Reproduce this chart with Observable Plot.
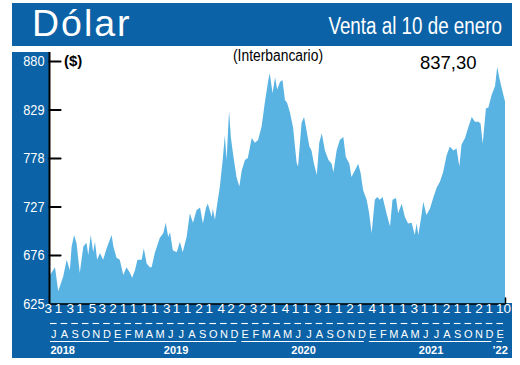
<!DOCTYPE html>
<html><head><meta charset="utf-8">
<script src="https://cdn.jsdelivr.net/npm/d3@7"></script>
<script src="https://cdn.jsdelivr.net/npm/@observablehq/plot@0.6"></script>
<style>
html,body{margin:0;padding:0;background:#fff;}
#wrap{position:relative;width:520px;height:365px;overflow:hidden;background:#fff;}
.band{position:absolute;background:#0b62a6;}
#top{left:12px;top:3px;width:500px;height:43px;}
#left{left:12px;top:52px;width:37px;height:306px;}
#bottom{left:12px;top:303px;width:500px;height:55px;}
.layer{position:absolute;left:0;top:0;}
.txt{position:absolute;white-space:nowrap;line-height:1;display:inline-block;}
#title{left:32px;top:5px;color:#fff;font-family:"Liberation Sans",Arial,sans-serif;font-size:37.5px;letter-spacing:2px;}
#sub{right:18px;top:15px;color:#fff;font-family:"Liberation Sans",sans-serif;font-size:23.5px;transform:scaleX(0.8);transform-origin:right center;}
#unit{left:64px;top:53px;color:#000;font-family:"Liberation Sans",sans-serif;font-size:15px;font-weight:bold;}
#note{left:233px;top:48px;color:#000;font-family:"Liberation Sans",sans-serif;font-size:16px;transform:scaleX(0.865);transform-origin:left center;}
#last{left:420px;top:54.3px;color:#000;font-family:"Liberation Sans",sans-serif;font-size:18.5px;}
</style></head>
<body>
<div id="wrap">
  <div id="top" class="band"></div>
  <div id="left" class="band"></div>
  <div id="bottom" class="band"></div>
  <div id="title" class="txt">Dólar</div>
  <div id="sub" class="txt">Venta al 10 de enero</div>
  <div id="chart" class="layer"></div>
  <div id="months" class="layer"></div>
  <div id="unit" class="txt">($)</div>
  <div id="note" class="txt">(Interbancario)</div>
  <div id="last" class="txt"></div>
</div>
<script>
// ---- data ----
const dates = [
"2018-07-02","2018-07-04","2018-07-18","2018-07-27","2018-08-10","2018-08-20","2018-08-29","2018-09-03","2018-09-10","2018-09-17",
"2018-09-26","2018-10-06","2018-10-15","2018-10-20","2018-10-27","2018-11-03","2018-11-08","2018-11-14","2018-11-22","2018-12-01",
"2018-12-11","2018-12-25","2018-12-30","2019-01-08","2019-01-17","2019-01-27","2019-02-05","2019-02-15","2019-02-21","2019-03-01",
"2019-03-08","2019-03-20","2019-03-26","2019-04-03","2019-04-12","2019-04-17","2019-04-26","2019-05-10","2019-05-20","2019-05-27",
"2019-06-03","2019-06-08","2019-06-16","2019-06-27","2019-07-06","2019-07-14","2019-07-25","2019-08-03","2019-08-12","2019-08-22",
"2019-09-01","2019-09-09","2019-09-18","2019-09-23","2019-10-04","2019-10-07","2019-10-13","2019-10-18","2019-10-27","2019-11-04",
"2019-11-10","2019-11-15","2019-11-22","2019-11-27","2019-12-03","2019-12-13","2019-12-21","2019-12-28","2020-01-06","2020-01-14",
"2020-01-25","2020-02-03","2020-02-12","2020-02-22","2020-03-02","2020-03-12","2020-03-16","2020-03-24","2020-03-31","2020-04-06",
"2020-04-14","2020-04-21","2020-04-28","2020-05-04","2020-05-12","2020-05-21","2020-05-31","2020-06-04","2020-06-14","2020-06-21",
"2020-06-28","2020-07-06","2020-07-12","2020-07-19","2020-07-27","2020-08-03","2020-08-10","2020-08-19","2020-08-29","2020-09-07",
"2020-09-12","2020-09-21","2020-09-30","2020-10-10","2020-10-17","2020-10-27","2020-11-02","2020-11-12","2020-11-21","2020-11-28",
"2020-12-05","2020-12-15","2020-12-22","2020-12-29","2021-01-07","2021-01-14","2021-01-21","2021-01-29","2021-02-09","2021-02-19",
"2021-02-26","2021-03-08","2021-03-14","2021-03-24","2021-04-02","2021-04-11","2021-04-21","2021-04-30","2021-05-05","2021-05-10",
"2021-05-19","2021-05-24","2021-06-02","2021-06-12","2021-06-21","2021-07-01","2021-07-10","2021-07-19","2021-07-29","2021-08-07",
"2021-08-17","2021-08-26","2021-09-03","2021-09-09","2021-09-19","2021-09-28","2021-10-08","2021-10-17","2021-10-27","2021-11-02",
"2021-11-08","2021-11-17","2021-11-24","2021-12-03","2021-12-13","2021-12-19","2021-12-25","2022-01-01","2022-01-10"];
const values = [
657,655,663,638,653,671,660,685,697,688,
657,685,689,676,697,679,690,671,678,671,
683,697,685,673,671,655,663,657,652,660,
671,671,683,667,663,663,678,694,699,710,
695,700,681,679,690,679,695,720,710,723,
726,709,726,730,716,725,713,726,748,776,
802,776,828,800,783,758,748,765,776,778,
799,794,797,811,836,860,867,846,863,850,
858,860,839,836,826,810,773,769,815,821,
807,790,786,772,760,794,804,786,776,772,
763,786,797,800,779,772,758,765,772,762,
744,734,720,699,734,737,734,737,720,706,
734,736,720,730,716,709,710,697,709,697,
718,732,718,725,736,747,753,763,781,790,
786,788,769,792,799,810,821,816,816,814,
793,830,831,844,854,874,862,851,837.30];
const yTicks = [625, 676, 727, 778, 829, 880];
const monthInitials = ["E","F","M","A","M","J","J","A","S","O","N","D"];
const firstDays = [3,1,3,1,5,3,
  2,1,1,1,1,3,1,1,2,1,4,2,
  2,3,2,1,4,1,1,3,1,1,2,1,
  4,1,1,1,3,1,1,2,1,1,2,1,
  10];
const yearLabels = ["2018","2019","2020","2021","’22"];
const startYear = 2018, startMonth = 6; // July 2018

// ---- derived tables ----
const parse = d3.utcParse("%Y-%m-%d");
const series = dates.map((d, i) => ({date: parse(d), value: values[i]}));
const xDomain = [new Date(Date.UTC(startYear, startMonth, 1)), series[series.length - 1].date];
const months = firstDays.map((day, i) => {
  const m = (startMonth + i) % 12, y = startYear + Math.floor((startMonth + i) / 12);
  return {i, letter: monthInitials[m], year: y, day: String(day), dayDate: new Date(Date.UTC(y, m, day))};
});
const years = yearLabels.map((label, k) => {
  const ms = months.filter(d => d.year === startYear + k);
  return {label, i0: ms[0].i, i1: ms[ms.length - 1].i + 1};
});
document.getElementById("last").textContent = values[values.length - 1].toFixed(2).replace(".", ",");

const FONT = '"Liberation Sans",Arial,sans-serif';
const lineShape = {draw(context, l) { context.moveTo(0, 0); context.lineTo(0, -l); }};

// condense text horizontally (the original uses a condensed face)
function squeeze(svg, label, k) {
  svg.querySelectorAll(`g[aria-label="${label}"] text`).forEach(t => {
    const tr = t.getAttribute("transform") || "";
    t.setAttribute("transform", `${tr} scale(${k},1)`);
  });
}

const chart = Plot.plot({
  width: 520, height: 365,
  marginLeft: 49, marginRight: 15, marginTop: 52, marginBottom: 61.5,
  style: {background: "transparent", overflow: "visible"},
  x: {type: "utc", domain: xDomain, axis: null},
  y: {domain: [yTicks[0], yTicks[yTicks.length - 1]], range: [303.5, 61], axis: null},
  marks: [
    Plot.areaY(series, {x: "date", y: "value", fill: "#58b2e2", clip: true}),
    Plot.ruleY([yTicks[0]], {stroke: "#000", strokeWidth: 1.6}),
    Plot.ruleX([xDomain[0]], {stroke: "#000", strokeWidth: 2}),
    Plot.vector(yTicks.slice(1), {y: d => d, frameAnchor: "left", rotate: 90, length: 11, anchor: "start", shape: lineShape, stroke: "#000", strokeWidth: 2.2}),
    Plot.axisY({ticks: yTicks, tickSize: 0, tickPadding: 5, label: null, fill: "white", fontSize: 14.5, fontFamily: FONT}),
    Plot.vector([xDomain[1]], {x: d => d, frameAnchor: "bottom", length: 6, anchor: "start", shape: lineShape, stroke: "#000", strokeWidth: 1.5}),
    Plot.text(months, {x: "dayDate", text: "day", frameAnchor: "bottom", dy: 9, dx: -2, fill: "white", fontSize: 13.5, fontFamily: FONT, ariaLabel: "daylabels"})
  ]
});
document.getElementById("chart").append(chart);
squeeze(chart, "y-axis tick label", 0.88);
squeeze(chart, "daylabels", 0.62);

const band = Plot.plot({
  width: 520, height: 365,
  marginLeft: 48, marginRight: 15, marginTop: 0, marginBottom: 0,
  style: {background: "transparent", overflow: "visible"},
  x: {domain: [0, months.length], axis: null},
  y: {type: "point", domain: ["dash", "month", "line", "year"], range: [322, 350], padding: 0, axis: null},
  marks: [
    Plot.ruleY(months, {x1: "i", x2: d => d.i + 1, y: () => "dash", insetLeft: 2, insetRight: 2, stroke: "white", strokeWidth: 1.1}),
    Plot.text(months, {x: d => d.i + 0.5, y: () => "month", text: "letter", dy: 1.5, fill: "white", fontSize: 11, fontFamily: FONT, ariaLabel: "monthletters"}),
    Plot.ruleY(years, {x1: "i0", x2: "i1", y: () => "line", insetLeft: 2, insetRight: 3, stroke: "white", strokeWidth: 1}),
    Plot.text(years.slice(1), {x: d => (d.i0 + d.i1) / 2, y: () => "year", text: "label", fill: "white", fontSize: 11, fontWeight: "bold", fontFamily: FONT, ariaLabel: "years"}),
    Plot.text(years.slice(0, 1), {x: "i0", y: () => "year", text: "label", textAnchor: "start", dx: 2, fill: "white", fontSize: 11, fontWeight: "bold", fontFamily: FONT, ariaLabel: "years"})
  ]
});
document.getElementById("months").append(band);
squeeze(band, "monthletters", 0.75);
squeeze(band, "years", 0.85);
</script>
</body></html>
